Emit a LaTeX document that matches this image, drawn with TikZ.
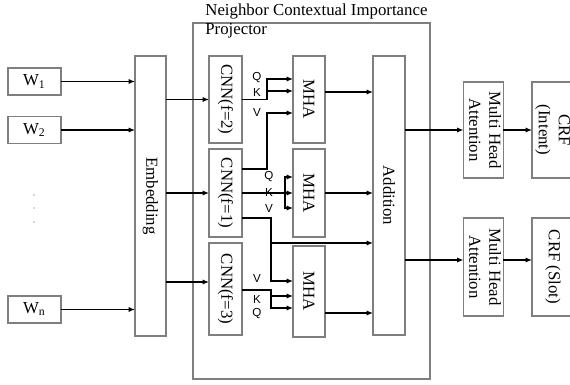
\documentclass[tikz,border=0pt]{standalone}
\usepackage{fontspec}
\setmainfont{Liberation Serif}
\newfontfamily\qkvfont{Liberation Sans}
\usetikzlibrary{arrows.meta,calc,positioning}
\definecolor{Edge}{HTML}{7F7F7F}

\begin{document}
\begin{tikzpicture}[x=0.5pt,y=-0.5pt,font=\fontsize{8.4}{10}\selectfont,>={Latex[length=3.2pt,width=2.6pt]},
    blk/.style={draw=Edge,line width=.55pt,inner sep=0pt,outer sep=0pt},
    sz/.style 2 args={minimum width=#1*0.5pt,minimum height=#2*0.5pt},
    arr/.style={->,line width=.6pt},
    qkv/.style={font=\qkvfont\fontsize{5.8}{6}\selectfont,inner sep=0pt}]
  \useasboundingbox (0,0) rectangle (570,385);
  % projector frame and its title
  \node[blk,sz={237}{356}] (proj) at (311.5,201) {};
  \node[anchor=west,inner sep=0pt] (title) at (205,11) {Neighbor Contextual Importance};
  \node[anchor=west,inner sep=0pt] (projlbl) at (205,31) {Projector};
  % words
  \foreach \n/\y in {1/81.5,2/130,n/309.5}
    \node[blk,sz={53}{27}] (w\n) at (34.5,\y) {W\textsubscript{\n}};
  \foreach \y in {195,208,222}
    \fill[black!70] (34,\y) circle (.35pt);
  \node[blk,sz={31}{280}] (emb) at (150.5,196) {\rotatebox{-90}{Embedding}};
  % convolutions and attention blocks
  \node[blk,sz={33}{87}] (cnnA) at (225.5,99.5) {\rotatebox{-90}{CNN(f=2)}};
  \node[blk,sz={33}{88}] (cnnB) at (225.5,193) {\rotatebox{-90}{CNN(f=1)}};
  \node[blk,sz={33}{92}] (cnnC) at (225.5,289) {\rotatebox{-90}{CNN(f=3)}};
  \node[blk,sz={32}{87}] (mhaA) at (309,99.5) {\rotatebox{-90}{MHA}};
  \node[blk,sz={32}{88}] (mhaB) at (309,193) {\rotatebox{-90}{MHA}};
  \node[blk,sz={32}{91}] (mhaC) at (309,291.5) {\rotatebox{-90}{MHA}};
  \node[blk,sz={32}{279}] (add) at (389,195.5) {\rotatebox{-90}{Addition}};
  % output heads
  \node[blk,sz={39}{96}] (attA) at (483.5,130) {\rotatebox{-90}{\begin{tabular}{@{}c@{}}Multi Head\\Attention\end{tabular}}};
  \node[blk,sz={39}{98}] (attB) at (483.5,267) {\rotatebox{-90}{\begin{tabular}{@{}c@{}}Multi Head\\Attention\end{tabular}}};
  \node[blk,sz={42}{96}] (crfA) at (553,130) {\rotatebox{-90}{\begin{tabular}{@{}c@{}}CRF\\(Intent)\end{tabular}}};
  \node[blk,sz={42}{98}] (crfB) at (553,267) {\rotatebox{-90}{CRF (Slot)}};

  \foreach \w in {w1,w2,wn}
    \draw[arr] (\w.east) -- (\w -| emb.west);
  \draw[arr] (emb.east |- cnnA) -- (cnnA.west);
  \draw[arr] (emb.east |- cnnB) -- (cnnB.west);
  \draw[arr] (emb.east |- 0,282) -- (cnnC.west |- 0,282);
  % first MHA: Q,K from f=2, V from f=1
  \draw[arr] (cnnA.east) -| (267,79) -- (mhaA.west |- 0,79);
  \draw[arr] (267,91) -- (mhaA.west |- 0,91);
  \draw[arr] (cnnB.east |- 0,169) -| (267,113) -- (mhaA.west |- 0,113);
  % second MHA: Q,K,V from f=1
  \draw[arr] (cnnB.east) -- (mhaB.west);
  \draw[arr] (285,193) |- (mhaB.west |- 0,177);
  \draw[arr] (285,193) |- (mhaB.west |- 0,208);
  % third MHA: V from f=1, K,Q from f=3; f=1 also skips to Addition
  \draw[arr] (cnnB.east |- 0,218) -| (271,281) -- (mhaC.west |- 0,281);
  \draw[arr] (271,243) -- (add.west |- 0,243);
  \draw[arr] (cnnC.east |- 0,290) -| (271,296) -- (mhaC.west |- 0,296);
  \draw[arr] (271,296) |- (mhaC.west |- 0,308);
  \node[qkv] (qA) at (257,78) {Q};
  \node[qkv] (kA) at (257,93) {K};
  \node[qkv] (vA) at (257,113) {V};
  \node[qkv] (qB) at (269,177) {Q};
  \node[qkv] (kB) at (269,193) {K};
  \node[qkv] (vB) at (269,209) {V};
  \node[qkv] (vC) at (257,279) {V};
  \node[qkv] (kC) at (257,300) {K};
  \node[qkv] (qC) at (257,314) {Q};
  % into Addition and the two heads
  \draw[arr] (mhaA.east |- 0,92) -- (add.west |- 0,92);
  \draw[arr] (mhaB.east) -- (add.west |- mhaB);
  \draw[arr] (mhaC.east |- 0,313) -- (add.west |- 0,313);
  \draw[arr] (add.east |- attA) -- (attA.west);
  \draw[arr] (add.east |- 0,260) -- (attB.west |- 0,260);
  \draw[arr] (attA.east) -- (crfA.west |- attA);
  \draw[arr] (attB.east |- 0,260) -- (crfB.west |- 0,260);
\end{tikzpicture}
\end{document}
